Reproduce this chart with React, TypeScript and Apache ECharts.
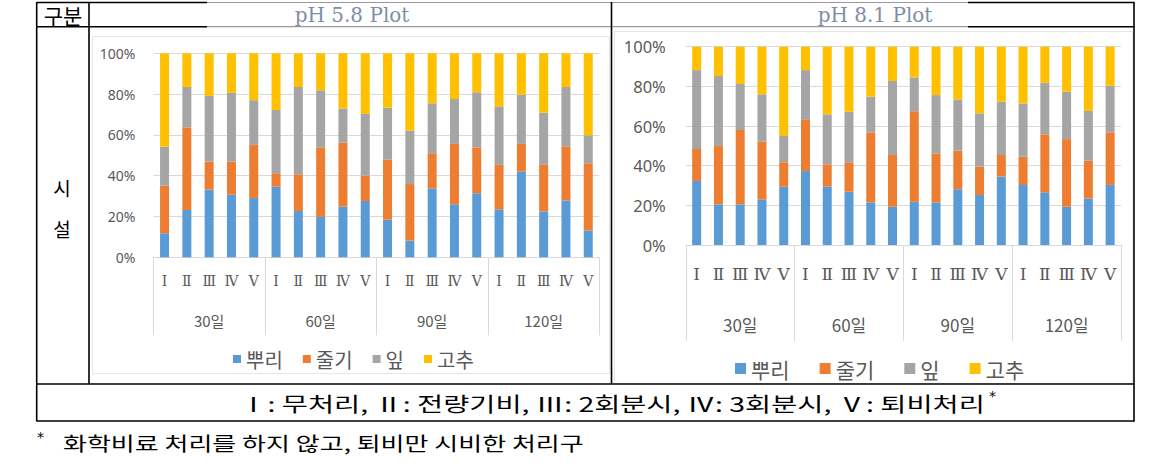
import React, { useEffect, useRef } from "react";
import * as echarts from "echarts";

// ---------- data ----------
const treatments = ["Ⅰ", "Ⅱ", "Ⅲ", "Ⅳ", "Ⅴ"];
const periods = ["30일", "60일", "90일", "120일"];
const categoryIds = periods.flatMap((p) => treatments.map((t) => p + "|" + t));
const seriesNames = ["뿌리", "줄기", "잎", "고추"];
const colors = ["#5b9bd5", "#ed7d31", "#a5a5a5", "#ffc000"];
const yTickLabels = ["0%", "20%", "40%", "60%", "80%", "100%"];

// pH 5.8 Plot (percent of total, per organ)
const ph58Root = [11.8, 23.2, 33.2, 30.7, 29.1, 34.6, 22.7, 19.8, 24.8, 27.6, 18.5, 8.2, 33.8, 26.0, 31.4, 23.5, 42.0, 22.5, 27.9, 13.1];
const ph58Stem = [23.3, 40.5, 13.7, 16.2, 26.0, 6.6, 18.0, 34.1, 31.4, 12.4, 29.4, 27.7, 17.2, 29.6, 22.5, 21.8, 13.6, 22.8, 26.5, 33.0];
const ph58Leaf = [19.1, 19.8, 32.2, 33.7, 21.9, 31.0, 42.8, 28.0, 16.7, 30.3, 25.5, 26.2, 24.5, 22.0, 27.0, 28.7, 24.1, 25.6, 29.1, 13.7];
const ph58Pepper = [45.8, 16.5, 20.9, 19.4, 23.0, 27.8, 16.5, 18.1, 27.1, 29.7, 26.6, 37.9, 24.5, 22.4, 19.1, 26.0, 20.3, 29.1, 16.5, 40.2];

// pH 8.1 Plot
const ph81Root = [32.3, 20.5, 20.5, 23.0, 29.4, 37.3, 29.4, 26.9, 21.5, 19.3, 21.8, 21.5, 28.1, 25.2, 34.5, 30.3, 26.6, 19.3, 23.5, 30.3];
const ph81Stem = [16.1, 29.4, 37.5, 29.1, 12.3, 26.1, 11.3, 14.8, 35.3, 26.1, 45.6, 24.7, 19.5, 14.3, 10.9, 14.2, 29.2, 34.1, 19.0, 26.5];
const ph81Leaf = [39.8, 35.3, 23.2, 23.9, 13.3, 24.8, 25.2, 25.5, 18.0, 37.3, 17.1, 29.4, 25.8, 26.9, 26.9, 26.9, 26.0, 23.9, 25.1, 23.5];
const ph81Pepper = [11.8, 14.8, 18.8, 24.0, 45.0, 11.8, 34.1, 32.8, 25.2, 17.3, 15.5, 24.4, 26.6, 33.6, 27.7, 28.6, 18.2, 22.7, 32.4, 19.7];

const plotTitles = ["pH 5.8 Plot", "pH 8.1 Plot"];
const headerLabel = "구분";
const rowLabel = ["시", "설"];
const treatmentNote = "Ⅰ: 무처리, Ⅱ: 전량기비, Ⅲ: 2회분시, Ⅳ: 3회분시, Ⅴ: 퇴비처리";
const footnote = "화학비료 처리를 하지 않고, 퇴비만 시비한 처리구";

// ---------- layout ----------
const KR = "'Noto Sans CJK KR', 'Noto Sans', sans-serif";
const LABEL = "#595959";
const GRID = "#d9d9d9";

const panels = [
  { left: 153.4, top: 53.3, width: 446, height: 204, yFont: 14, yMargin: 18, xFont: 14, xMargin: 17, gFont: 15, gMargin: 56, tick: 78, barW: 9, legLeft: 228, legTop: 344, legFont: 20, legIcon: 8, legGap: 20 },
  { left: 685.8, top: 46.7, width: 435.2, height: 198.3, yFont: 16.5, yMargin: 20, xFont: 17, xMargin: 20, gFont: 17, gMargin: 71, tick: 96, barW: 9, legLeft: 730, legTop: 353, legFont: 21, legIcon: 11, legGap: 30 },
];

const dataSets = [
  [ph58Root, ph58Stem, ph58Leaf, ph58Pepper],
  [ph81Root, ph81Stem, ph81Leaf, ph81Pepper],
];

function buildOption() {
  const grid: any[] = [];
  const xAxis: any[] = [];
  const yAxis: any[] = [];
  const series: any[] = [];
  const legend: any[] = [];

  panels.forEach((p, i) => {
    grid.push({ left: p.left, top: p.top, width: p.width, height: p.height, containLabel: false });
    xAxis.push({
      type: "category",
      gridIndex: i,
      data: categoryIds,
      position: "bottom",
      axisLine: { show: false },
      axisTick: { show: false },
      axisLabel: {
        interval: 0,
        margin: p.xMargin,
        color: LABEL,
        fontSize: p.xFont,
        fontFamily: "'DejaVu Serif', serif",
        formatter: (v: string) => v.split("|")[1],
      },
    });
    xAxis.push({
      type: "category",
      gridIndex: i,
      data: periods,
      position: "bottom",
      axisLine: { show: false },
      axisTick: { show: true, length: p.tick, lineStyle: { color: GRID, width: 1 } },
      axisLabel: { interval: 0, margin: p.gMargin, color: LABEL, fontSize: p.gFont, fontFamily: KR },
      splitLine: { show: false },
    });
    yAxis.push({
      type: "value",
      gridIndex: i,
      min: 0,
      max: 100,
      interval: 20,
      axisLine: { show: false },
      axisTick: { show: false },
      splitLine: { show: true, lineStyle: { color: GRID, width: 1 } },
      axisLabel: {
        margin: p.yMargin,
        color: LABEL,
        fontSize: p.yFont,
        fontFamily: "'Noto Sans', sans-serif",
        formatter: (v: number) => yTickLabels[Math.round(v / 20)],
      },
    });
    seriesNames.forEach((name, k) => {
      series.push({
        type: "bar",
        name,
        xAxisIndex: i * 2,
        yAxisIndex: i,
        stack: "s" + i,
        barWidth: p.barW,
        itemStyle: { color: colors[k] },
        data: dataSets[i][k],
      });
    });
    legend.push({
      data: seriesNames,
      left: p.legLeft,
      top: p.legTop,
      itemWidth: p.legIcon,
      itemHeight: p.legIcon,
      itemGap: p.legGap,
      icon: "rect",
      selectedMode: false,
      textStyle: { color: LABEL, fontSize: p.legFont, fontFamily: KR },
    });
  });

  const line = (x1: number, y1: number, x2: number, y2: number, stroke = "#000", w = 1.6) => ({
    type: "line",
    shape: { x1, y1, x2, y2 },
    style: { stroke, lineWidth: w },
    silent: true,
  });
  const text = (t: string, x: number, y: number, size: number, fill: string, family: string, align = "center", sx = 1) => ({
    type: "text",
    x,
    y,
    scaleX: sx,
    silent: true,
    style: { text: t, fill, fontSize: size, fontWeight: "normal", fontFamily: family, textAlign: align, textVerticalAlign: "middle", verticalAlign: "middle" },
  });

  const graphic: any[] = [
    // chart frames
    { type: "rect", shape: { x: 92.5, y: 36.5, width: 517, height: 337 }, style: { fill: "none", stroke: "#e6e6e6", lineWidth: 1 }, silent: true },
    { type: "rect", shape: { x: 614.5, y: 31.5, width: 518, height: 352 }, style: { fill: "none", stroke: "#e6e6e6", lineWidth: 1 }, silent: true },
    // table lines
    line(37, 2.5, 207, 2.5),
    line(207, 2.5, 968, 2.5, "#9a9a9a", 1.2),
    line(968, 2.5, 1134.5, 2.5),
    line(37, 26.7, 207, 26.7),
    line(207, 26.7, 968, 26.7, "#9a9a9a", 1.2),
    line(968, 26.7, 1134.5, 26.7),
    line(37, 384, 1134.5, 384),
    line(37, 421, 1134.5, 421),
    line(36.7, 2, 36.7, 421.5),
    line(89, 2, 89, 384),
    line(611.5, 2, 611.5, 384),
    line(1134, 2, 1134, 421.5),
    // texts
    text(headerLabel, 63, 15, 21, "#000", KR),
    text(plotTitles[0], 352, 15, 20, "#7f8ea6", "'DejaVu Serif', serif"),
    text(plotTitles[1], 875, 15, 20, "#7f8ea6", "'DejaVu Serif', serif"),
    text(rowLabel[0], 62, 187, 19, "#000", KR),
    text(rowLabel[1], 62, 228, 19, "#000", KR),
    text(treatmentNote, 612, 403, 20, "#000", KR, "center", 1.42),
    text("*", 989, 396, 14, "#000", "'DejaVu Sans', sans-serif", "left"),
    text("*", 37, 437, 14, "#000", "'DejaVu Sans', sans-serif", "left"),
    text(footnote, 63, 443, 19, "#000", KR, "left", 1.37),
  ];

  return {
    animation: false,
    backgroundColor: "#fff",
    grid,
    xAxis,
    yAxis,
    series,
    legend,
    graphic,
  };
}

export default function App() {
  const ref = useRef<HTMLDivElement>(null);
  useEffect(() => {
    if (!ref.current) return;
    const chart = echarts.init(ref.current, null, { renderer: "svg" });
    chart.setOption(buildOption() as any);
    return () => chart.dispose();
  }, []);
  return (
    <div
      ref={ref}
      style={{ position: "fixed", left: 0, top: 0, width: 1162, height: 469, background: "#fff" }}
    />
  );
}
